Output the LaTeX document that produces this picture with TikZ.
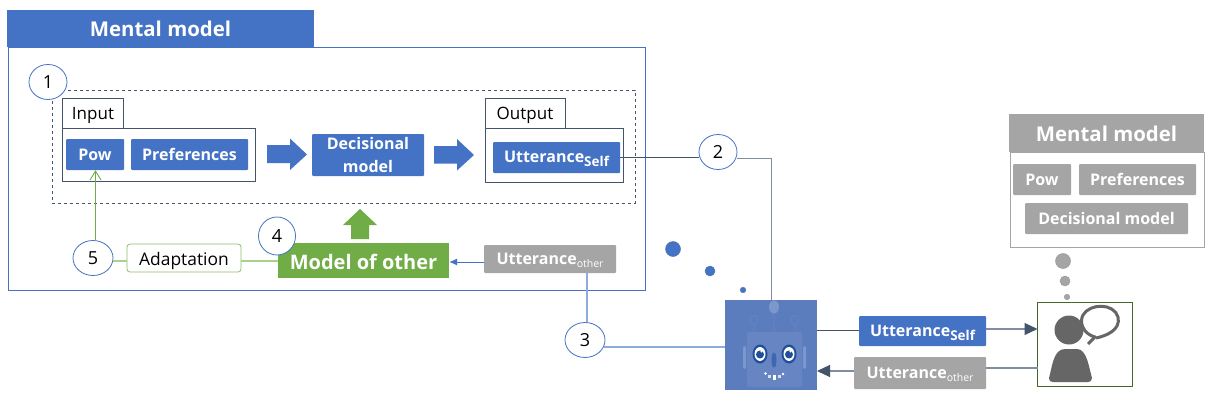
\documentclass[tikz,border=0pt]{standalone}
\usepackage{fontspec}
\setmainfont{Open Sans}
\usetikzlibrary{arrows.meta,shapes.geometric}
\definecolor{mblue}{HTML}{4472C4}
\definecolor{mgreen}{HTML}{70AD47}
\definecolor{mgray}{HTML}{A5A5A5}
\definecolor{mdark}{HTML}{44546A}
\definecolor{lblue}{HTML}{8FAADC}
\definecolor{lgreen}{HTML}{A9D18E}
\definecolor{midline}{HTML}{7F8EA6}
\definecolor{robotbg}{HTML}{5B7DBE}
\definecolor{robotlt}{HTML}{6785C2}
\definecolor{robotlg}{HTML}{7C97CC}
\definecolor{navy}{HTML}{1F4E9C}
\definecolor{persong}{HTML}{666666}
\newcommand{\fs}[1]{\fontsize{#1}{#1}\selectfont}
\tikzset{
  x=1pt,y=-1pt,
  fillbox/.style={fill=mblue,text=white,font=\bfseries\fs{16},inner sep=0pt,rounded corners=1pt,align=center,text height=12pt,text depth=0pt},
  graybox/.style={fillbox,fill=mgray},
  num/.style={ellipse,draw=mblue,fill=white,line width=0.8pt,inner sep=0pt,text=black,font=\fs{18},text height=13pt,text depth=0pt},
  dkbox/.style={draw=mdark,line width=0.9pt,fill=white,inner sep=0pt,font=\fs{17},text height=13pt,text depth=0pt},
  titlebar/.style={text=white,font=\bfseries\fs{20.4},inner sep=0pt,text height=16.5pt,text depth=0pt},
  wire/.style={line width=0.9pt},
  softwire/.style={line width=1.3pt},
  dot/.style={circle,inner sep=0pt,draw=#1!70!gray,fill=#1,line width=0.5pt},
}
\begin{document}
\begin{tikzpicture}
\useasboundingbox (0,0) rectangle (1209,401);
\fill[white] (0,0) rectangle (1209,401);
% left mental model
\node[draw=mblue,line width=0.9pt,minimum width=637pt,minimum height=243pt,inner sep=0pt] (mainbox) at (326.5,168.5) {};
\node[titlebar,fill=mblue,minimum width=307pt,minimum height=37pt] (title) at (160.5,28.5) {Mental model};
\node[draw=mdark,dashed,line width=0.8pt,minimum width=583pt,minimum height=113pt,inner sep=0pt] (dash) at (343.5,146.5) {};
\node[dkbox,minimum width=61pt,minimum height=30pt] (intab) at (93,113.5) {Input};
\node[dkbox,minimum width=193pt,minimum height=53pt] (inbox) at (159,154.5) {};
\node[fillbox,minimum width=58pt,minimum height=31pt] (pow) at (95,154.5) {Pow};
\node[fillbox,minimum width=117pt,minimum height=31pt] (pref) at (189.5,154.5) {Preferences};
\node[fillbox,text height=35pt,minimum width=112pt,minimum height=42pt] (dec) at (368,155) {Decisional\\[7pt]model};
\node[dkbox,minimum width=80pt,minimum height=30pt] (outtab) at (525,113.5) {Output};
\node[dkbox,minimum width=138pt,minimum height=54pt] (outbox) at (554,155) {};
\node[fillbox,text height=9pt,minimum width=127pt,minimum height=31pt] (uself) at (556.5,157.5) {Utterance{\raisebox{-4pt}{\fs{13.5}Self}}};
\fill[mblue] (267,145) -- (290,145) -- (290,138.5) -- (307,154.5) -- (290,170) -- (290,163) -- (267,163) -- cycle;
\fill[mblue] (434,146) -- (457,146) -- (457,139) -- (474,155) -- (457,170.5) -- (457,163.5) -- (434,163.5) -- cycle;
\fill[mgreen] (351,239) -- (351,225) -- (343,225) -- (360,209) -- (377,225) -- (369,225) -- (369,239) -- cycle;
\node[fill=mgreen,text=white,font=\bfseries\fs{20},text height=17pt,text depth=0pt,minimum width=171pt,minimum height=35pt,inner sep=0pt] (model) at (363.5,260.5) {Model of other};
\node[graybox,text height=10pt,minimum width=132pt,minimum height=28pt] (uother) at (550,259) {Utterance{\raisebox{-3.5pt}{\fs{10.5}\mdseries other}}};
\node[draw=mgreen!80,line width=0.8pt,fill=white,rounded corners=3pt,inner sep=0pt,font=\fs{17.4},text height=14pt,text depth=0pt,minimum width=114pt,minimum height=28pt] (adapt) at (184,258) {Adaptation};
\node[num,minimum width=40pt,minimum height=35pt] (n5) at (93,258) {5};
\node[num,minimum width=37pt,minimum height=38pt] (n4) at (277,236) {4};
\node[num,minimum width=38pt,minimum height=35pt] (n1) at (48,82) {1};
\node[num,minimum width=40pt,minimum height=35pt] (n3) at (585,340) {3};
\node[num,minimum width=38pt,minimum height=35pt] (n2) at (718,152) {2};
% robot
\node[fill=robotbg,minimum width=92pt,minimum height=90pt,inner sep=0pt] (robot) at (771,345) {};
\coordinate (rtop) at (771,300);
\coordinate (selfcorner) at (771,158);
\coordinate (rleft) at (725,347);
\coordinate (n3out) at (604,347);
\coordinate (rr1) at (817,330);
\coordinate (rr2) at (817,371);
\draw[robotlt,line width=0.7pt] (754,320) ellipse (3.8 and 4.5) (795,320) ellipse (3.8 and 4.5)
  (754,324.5) -- (754,333) (795,324.5) -- (795,333) (774,313) -- (774,332);
\fill[robotlg] (774,307) ellipse (5 and 6.5);
\fill[robotlt,rounded corners=2pt] (747,332) rectangle (802,387);
\fill[robotlg,rounded corners=1.5pt] (743,346) rectangle (746,369);
\fill[robotlg,rounded corners=1.5pt] (803,346) rectangle (806,369);
\foreach \ex in {760,789}{
  \fill[navy] (\ex,354) ellipse (7.5 and 9.5);
  \fill[white] (\ex,354) ellipse (5.5 and 7);
  \fill[navy] (\ex,354.5) circle (4);
  \fill[white] (\ex+1.5,351.5) circle (1.2);
}
\fill[mblue!90!black] (774,360) ellipse (2.5 and 7.5);
\fill[white] (765.5,373.5) circle (1.4) (783,374) circle (1.4);
\fill[white!75!robotlt] (768,374.5) rectangle (771,378);
\fill[white] (772.5,375) rectangle (776,379.5);
\fill[white!75!robotlt] (778,374.5) rectangle (781,378);
% right elements
\node[fillbox,text height=10pt,minimum width=127pt,minimum height=30pt] (uself2) at (922.5,331) {Utterance{\raisebox{-4pt}{\fs{13.5}Self}}};
\node[graybox,text height=10pt,minimum width=132pt,minimum height=32pt] (uother2) at (920,373) {Utterance{\raisebox{-3.5pt}{\fs{10.5}\mdseries other}}};
\node[draw=mgreen!60!black,line width=0.9pt,minimum width=95pt,minimum height=84pt,inner sep=0pt,fill=white] (user) at (1084.5,344) {};
\coordinate (ua) at (1037.5,329);
\coordinate (ub) at (1037.5,368);
% person
\draw[persong,line width=3pt,line join=round] (1088,344) -- (1095,337) .. controls (1083,334) and (1079,322) .. (1083,315) .. controls (1090,303) and (1114,303) .. (1118,317) .. controls (1121,330) and (1106,336) .. (1096,338);
\fill[persong] (1069,330) circle (14.5);
\fill[persong] (1049,378) .. controls (1052,368) and (1053,349) .. (1065,349) -- (1077,349) .. controls (1087,349) and (1089,368) .. (1092,378) .. controls (1092,381) and (1090,382) .. (1088,382) -- (1053,382) .. controls (1050,382) and (1049,381) .. (1049,378) -- cycle;
\node[dot=mgray,minimum size=15pt] (t1) at (1063,261) {};
\node[dot=mgray,minimum size=10pt] (t2) at (1065,281) {};
\node[dot=mgray,minimum size=5.5pt] (t3) at (1067,297) {};
\node[dot=mblue,minimum size=15pt] (d1) at (673,249) {};
\node[dot=mblue,minimum size=10pt] (d2) at (710,271) {};
\node[dot=mblue,minimum size=5.5pt] (d3) at (743,290) {};
% right mental
\node[draw=mgray,line width=0.9pt,minimum width=194pt,minimum height=95pt,inner sep=0pt] (rbox) at (1107,199.5) {};
\node[titlebar,fill=mgray,minimum width=195pt,minimum height=38pt] (rtitle) at (1106.5,133) {Mental model};
\node[graybox,minimum width=58pt,minimum height=31pt] (rpow) at (1042,179.5) {Pow};
\node[graybox,minimum width=117pt,minimum height=31pt] (rpref) at (1137.5,179.5) {Preferences};
\node[graybox,minimum width=163pt,minimum height=31pt] (rdec) at (1106.5,218.5) {Decisional model};
% connectors
\draw[mdark,wire] (uself.east) -- (n2.west |- uself.east);
\draw[midline,wire] (n2.east |- selfcorner) -- (selfcorner) -- (rtop);
\draw[lblue,softwire] (uother.south -| 587,273) -- (n3.north -| 587,273);
\draw[lblue,softwire] (n3out) -- (rleft);
\draw[mblue,wire,-{Latex[length=8pt,width=7pt]}] ([yshift=-3pt]uother.west) -- ([yshift=-1.5pt]model.east);
\draw[lgreen,line width=1.5pt] ([yshift=-3pt]n5.east) -- ([yshift=-3pt]adapt.west);
\draw[lgreen,line width=1.5pt] ([yshift=-3pt]adapt.east) -- ([yshift=-0.5pt]model.west);
\draw[mgreen,wire,-{Straight Barb[length=9pt,width=11pt]}] (n5.north -| 95.5,240) -- (pow.south -| 95.5,170);
\draw[mdark,wire] (rr1) -- (uself2.west |- rr1);
\draw[midline,line width=1.1pt,-{Triangle[length=13pt,width=12pt,fill=mdark,color=mdark]}] (uself2.east |- ua) -- (ua);
\draw[midline,line width=1.1pt] (ub) -- (uother2.east |- ub);
\draw[midline,line width=1.1pt,-{Triangle[length=13pt,width=12pt,fill=mdark,color=mdark]}] (uother2.west |- rr2) -- (rr2);
\end{tikzpicture}
\end{document}
